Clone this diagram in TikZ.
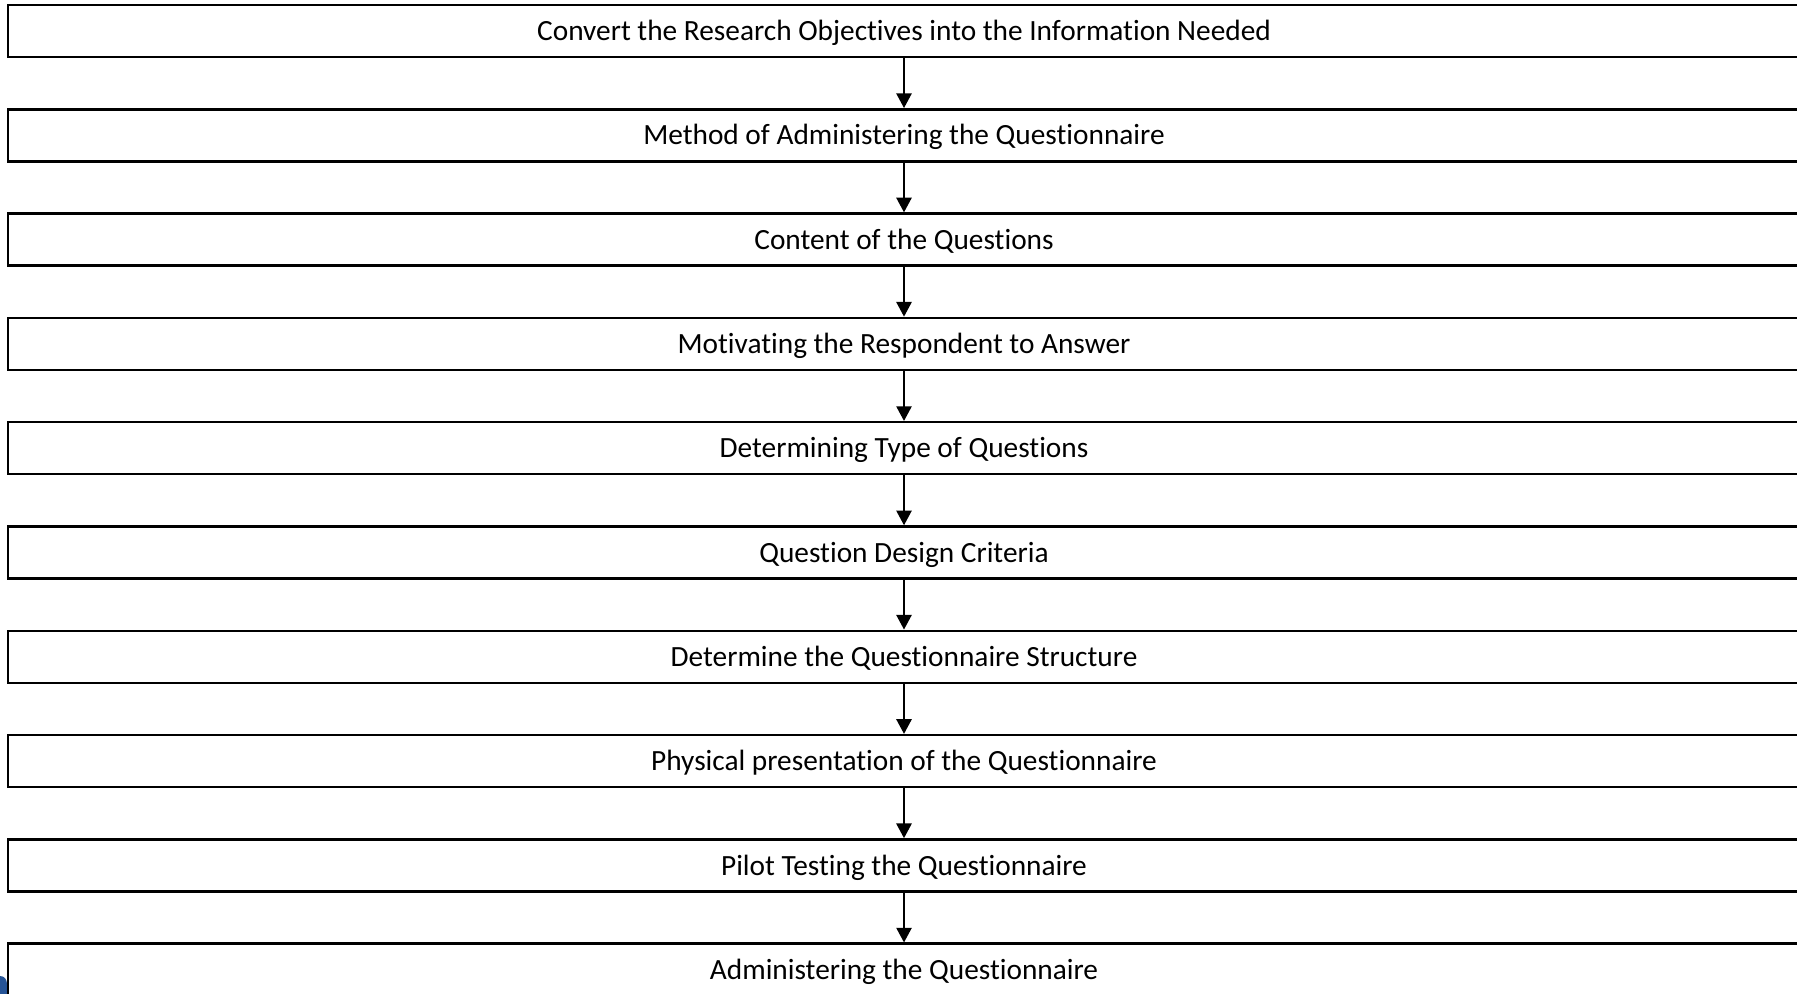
\documentclass[tikz,border=0pt]{standalone}
\usepackage{fontspec}
\setmainfont{Carlito}[RawFeature=-liga]
\usetikzlibrary{arrows.meta}
\begin{document}
\begin{tikzpicture}[x=0.75pt,y=-0.75pt,
  stagebox/.style={draw=black,line width=1.9pt,minimum width=1792*0.75pt,
    minimum height=52*0.75pt,inner sep=0pt,text height=15.4pt,text depth=1pt,
    font=\fontsize{22}{24}\selectfont},
  flow/.style={draw=black,line width=1.2pt,-{Triangle[width=11.5pt,length=11pt]}}]
\useasboundingbox (0,0) rectangle (1797,994);
\clip (0,0) rectangle (1797,994);
% blue corner ornament
\fill[fill={rgb,255:red,38;green,84;blue,150}] (0,994) -- (0,976) .. controls (4,976) and (7,979) .. (7,984) -- (7,994) -- cycle;
% process stages
\foreach \name/\txt [count=\i from 0] in {
  s0/Convert the Research Objectives into the Information Needed,
  s1/Method of Administering the Questionnaire,
  s2/Content of the Questions,
  s3/Motivating the Respondent to Answer,
  s4/Determining Type of Questions,
  s5/Question Design Criteria,
  s6/Determine the Questionnaire Structure,
  s7/Physical presentation of the Questionnaire,
  s8/Pilot Testing the Questionnaire,
  s9/Administering the Questionnaire}
  \node[stagebox] (\name) at (904,{31+\i*104.3}) {\txt};
% connectors
\foreach \a/\b in {s0/s1,s1/s2,s2/s3,s3/s4,s4/s5,s5/s6,s6/s7,s7/s8,s8/s9}
  \draw[flow] (\a.south) -- (\b.north);
\end{tikzpicture}
\end{document}
